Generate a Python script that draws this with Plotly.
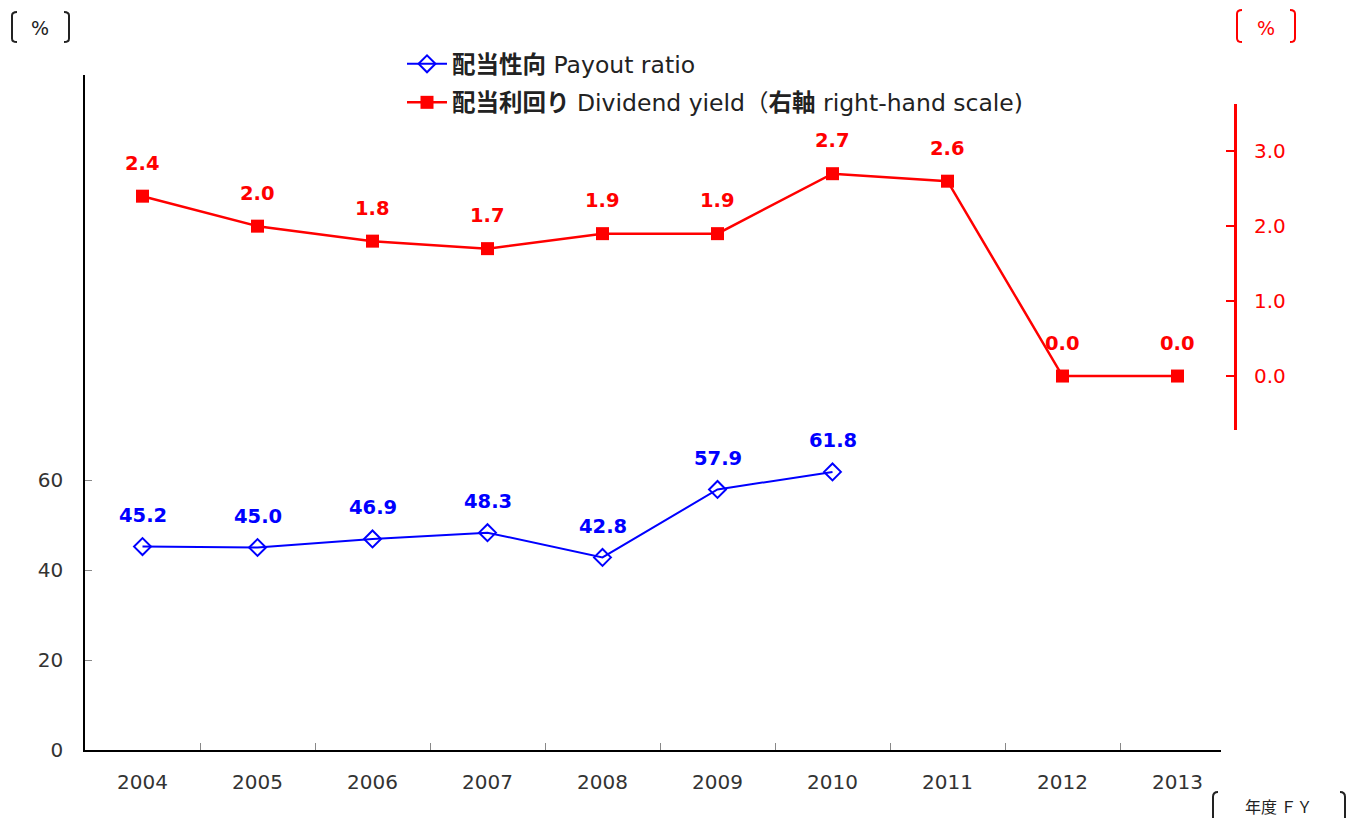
import plotly.graph_objects as go

years = ["2004", "2005", "2006", "2007", "2008", "2009", "2010", "2011", "2012", "2013"]
payout_years = ["2004", "2005", "2006", "2007", "2008", "2009", "2010"]
payout_ratio = [45.2, 45.0, 46.9, 48.3, 42.8, 57.9, 61.8]
dividend_yield = [2.4, 2.0, 1.8, 1.7, 1.9, 1.9, 2.7, 2.6, 0.0, 0.0]

left_tickvals = [0, 20, 40, 60, 80, 100, 120, 140]
left_ticktext = ["0", "20", "40", "60", "", "", "", ""]
right_tickvals = [0, 1, 2, 3]
right_ticktext = ["0.0", "1.0", "2.0", "3.0"]

BLUE = "#0000FF"
RED = "#FF0000"
FONT = "Noto Sans CJK JP"
LATIN = "DejaVu Sans, Noto Sans CJK JP"

# page body has an 8px margin; figure is sized so the plot lands where the reference has it
OFF = 8
W, H = 1365 - OFF, 818 - OFF
L, T = 85 - OFF, 75 - OFF
PLOT_RIGHT, PLOT_BOTTOM = 1235, 750
PW, PH = PLOT_RIGHT - 85, PLOT_BOTTOM - 75
R = W - L - PW
B = H - T - PH


def px(x):
    return (x - 85) / PW


def py(y):
    return (PLOT_BOTTOM - y) / PH


fig = go.Figure()
fig.add_trace(go.Scatter(
    x=payout_years, y=payout_ratio, name="<b>配当性向</b> Payout ratio",
    mode="lines+markers", line=dict(color=BLUE, width=2),
    marker=dict(symbol="diamond-open", size=13, color=BLUE, line=dict(width=2, color=BLUE)),
    xaxis="x", yaxis="y", legendgroup="a", cliponaxis=False,
))
fig.add_trace(go.Scatter(
    x=years, y=dividend_yield, name="<b>配当利回り</b> Dividend yield（<b>右軸</b> right-hand scale)",
    mode="lines+markers", line=dict(color=RED, width=2.5),
    marker=dict(symbol="square", size=13, color=RED),
    xaxis="x", yaxis="y2", legendgroup="b", cliponaxis=False,
))

LABEL_FONT = "DejaVu Sans, Noto Sans CJK JP"
annotations = []
for xv, yv in zip(payout_years, payout_ratio):
    annotations.append(dict(x=years.index(xv), y=yv, xref="x", yref="y", text=f"<b>{yv:.1f}</b>",
                            showarrow=False, yshift=31, xanchor="center", yanchor="middle",
                            font=dict(family=LABEL_FONT, size=19.5, color=BLUE)))
for xv, yv in zip(years, dividend_yield):
    annotations.append(dict(x=years.index(xv), y=yv, xref="x", yref="y2", text=f"<b>{yv:.1f}</b>",
                            showarrow=False, yshift=33, xanchor="center", yanchor="middle",
                            font=dict(family=LABEL_FONT, size=19.5, color=RED)))

annotations += [
    dict(x=px(40), y=py(28), xref="paper", yref="paper", text="%", showarrow=False,
         xanchor="center", yanchor="middle", font=dict(family=LATIN, size=19, color="#222")),
    dict(x=px(1266), y=py(28), xref="paper", yref="paper", text="%", showarrow=False,
         xanchor="center", yanchor="middle", font=dict(family=LATIN, size=19, color=RED)),
    dict(x=px(1279), y=py(806), xref="paper", yref="paper", text="年度 ＦＹ", showarrow=False,
         xanchor="center", yanchor="middle", font=dict(family=FONT, size=16, color="#222")),
]


def bracket(x, y0, y1, hook, color):
    # hook > 0 : left bracket opens right ; hook < 0 : right bracket opens left
    x0, xh = px(x), px(x + hook)
    a, b = py(y0), py(y1)
    c = (a - b) * 0.12
    path = f"M {xh},{a} Q {x0},{a} {x0},{a - c} L {x0},{b + c} Q {x0},{b} {xh},{b}"
    return dict(type="path", xref="paper", yref="paper", path=path,
                line=dict(color=color, width=2))


shapes = [
    bracket(12, 12, 42, 5, "#222"),
    bracket(69, 12, 42, -5, "#222"),
    bracket(1237, 10, 42, 5, RED),
    bracket(1295, 10, 42, -5, RED),
    bracket(1213, 792, 832, 5, "#222"),
    bracket(1345, 792, 832, -5, "#222"),
]

fig.update_layout(
    width=W, height=H,
    margin=dict(l=L, r=R, t=T, b=B, autoexpand=False),
    paper_bgcolor="white", plot_bgcolor="white",
    font=dict(family=LATIN, size=20, color="#222"),
    showlegend=True,
    legend=dict(x=px(402), y=py(42), xanchor="left", yanchor="top",
                font=dict(family=LATIN, size=23.5, color="#222"),
                traceorder="grouped", tracegroupgap=5, bgcolor="rgba(0,0,0,0)",
                itemwidth=40),
    xaxis=dict(type="category", categoryorder="array", categoryarray=years,
               domain=[0, px(1221)], range=[-0.5, -0.5 + (1221 - 85) / 115],
               showline=True, linecolor="black", linewidth=1.5,
               tickson="boundaries", ticks="inside", ticklen=7, tickcolor="#888", tickwidth=1,
               showgrid=False, zeroline=False, ticklabelstandoff=13,
               tickfont=dict(family=LATIN, size=20, color="#333"), fixedrange=True),
    yaxis=dict(range=[0, 150], domain=[0, 1], tickvals=left_tickvals, ticktext=left_ticktext,
               showline=True, linecolor="black", linewidth=1.5,
               ticks="inside", ticklen=7, tickcolor="#888", tickwidth=1,
               showgrid=False, zeroline=False, ticklabelstandoff=16,
               tickfont=dict(family=LATIN, size=20, color="#333")),
    yaxis2=dict(range=[-0.72, 3.63], domain=[py(430), py(104)], anchor="free", position=1.0,
                side="right", tickvals=right_tickvals, ticktext=right_ticktext,
                showline=True, linecolor=RED, linewidth=3,
                ticks="inside", ticklen=8, tickcolor=RED, tickwidth=2,
                showgrid=False, zeroline=False, ticklabelstandoff=13,
                tickfont=dict(family=LATIN, size=20, color=RED)),
    annotations=annotations,
    shapes=shapes,
)

fig.write_html("out.html")
